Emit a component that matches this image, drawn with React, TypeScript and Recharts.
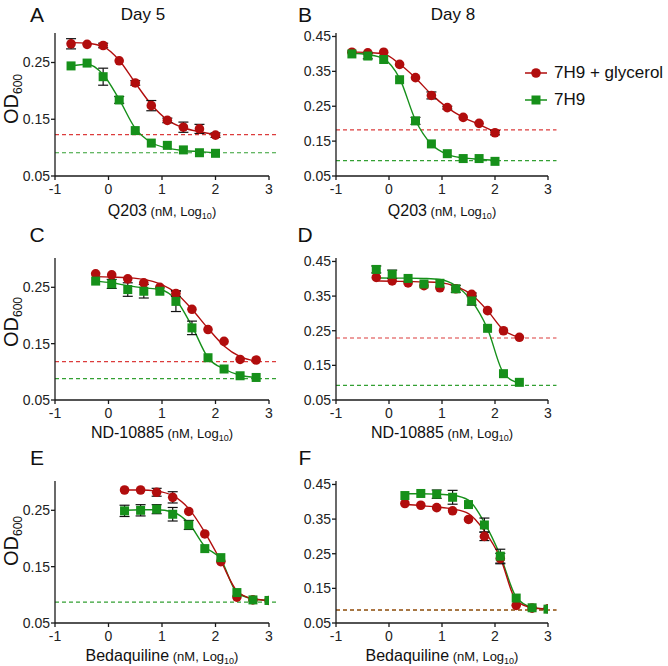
import React from "react";
import { ComposedChart, Line, Scatter, ErrorBar, XAxis, YAxis, ReferenceLine } from "recharts";

const RED = "#b10d0d";
const GREEN = "#16901a";
const RED_DASH = "#dc3c3c";
const GREEN_DASH = "#33a033";
const FONT = "'Liberation Sans', Arial, sans-serif";

const xTicks = [-1, 0, 1, 2, 3];
const yTicksDay5 = [0.05, 0.15, 0.25];
const yTicksDay8 = [0.05, 0.15, 0.25, 0.35, 0.45];

// doses, log10 nM
const q203Dose = [-0.7, -0.4, -0.1, 0.2, 0.5, 0.8, 1.1, 1.4, 1.7, 2.0];
const ndDose = [-0.24, 0.06, 0.36, 0.66, 0.96, 1.26, 1.56, 1.86, 2.16, 2.46, 2.76];
const ndDoseDay8 = [-0.24, 0.06, 0.36, 0.66, 0.96, 1.26, 1.56, 1.86, 2.16, 2.46];
const bdqDose = [0.3, 0.6, 0.9, 1.2, 1.5, 1.8, 2.1, 2.4, 2.7, 3.0];

// A: Q203, day 5
const aGly = [0.283, 0.282, 0.280, 0.253, 0.214, 0.174, 0.148, 0.136, 0.133, 0.122];
const aGlyErr = [0.009, 0, 0.004, 0, 0.004, 0.009, 0.004, 0.009, 0.008, 0.004];
const aGlyFit = [0.285, 0.284, 0.278, 0.254, 0.214, 0.176, 0.149, 0.135, 0.128, 0.123];
const aH9 = [0.244, 0.249, 0.225, 0.184, 0.130, 0.108, 0.104, 0.096, 0.091, 0.090];
const aH9Err = [0, 0, 0.015, 0.006, 0, 0, 0, 0, 0, 0];
const aH9Fit = [0.244, 0.247, 0.229, 0.185, 0.134, 0.109, 0.099, 0.095, 0.093, 0.091];

// B: Q203, day 8
const bGly = [0.405, 0.403, 0.405, 0.370, 0.332, 0.281, 0.246, 0.218, 0.201, 0.174];
const bGlyErr = [0, 0, 0, 0, 0, 0.010, 0.004, 0, 0, 0.006];
const bGlyFit = [0.406, 0.404, 0.400, 0.371, 0.331, 0.284, 0.246, 0.218, 0.198, 0.176];
const bH9 = [0.400, 0.394, 0.384, 0.326, 0.208, 0.142, 0.114, 0.100, 0.100, 0.092];
const bH9Err = [0, 0.008, 0, 0, 0.010, 0, 0, 0, 0, 0];
const bH9Fit = [0.402, 0.398, 0.386, 0.330, 0.210, 0.141, 0.112, 0.102, 0.098, 0.095];

// C: ND-10885, day 5
const cGly = [0.274, 0.272, 0.265, 0.258, 0.250, 0.239, 0.211, 0.175, 0.154, 0.122, 0.121];
const cGlyErr = [0, 0, 0, 0, 0, 0.005, 0, 0, 0, 0, 0];
const cGlyFit = [0.269, 0.268, 0.267, 0.264, 0.256, 0.240, 0.211, 0.177, 0.146, 0.127, 0.119];
const cH9 = [0.261, 0.256, 0.246, 0.243, 0.243, 0.225, 0.178, 0.125, 0.105, 0.093, 0.090];
const cH9Err = [0, 0.008, 0.012, 0.012, 0, 0.018, 0.012, 0, 0, 0, 0];
const cH9Fit = [0.261, 0.258, 0.253, 0.249, 0.246, 0.228, 0.181, 0.125, 0.105, 0.094, 0.090];

// D: ND-10885, day 8
const dGly = [0.404, 0.394, 0.388, 0.380, 0.374, 0.371, 0.355, 0.308, 0.250, 0.231];
const dGlyErr = [0, 0, 0, 0, 0, 0, 0.004, 0, 0, 0];
const dGlyFit = [0.394, 0.393, 0.392, 0.391, 0.389, 0.378, 0.354, 0.308, 0.252, 0.231];
const dH9 = [0.427, 0.413, 0.401, 0.385, 0.387, 0.371, 0.336, 0.257, 0.126, 0.101];
const dH9Err = [0.010, 0.012, 0, 0, 0, 0.010, 0.012, 0, 0, 0];
const dH9Fit = [0.403, 0.402, 0.402, 0.401, 0.398, 0.380, 0.336, 0.255, 0.128, 0.098];

// E: bedaquiline, day 5
const eGly = [0.286, 0.286, 0.282, 0.273, 0.248, 0.208, 0.159, 0.096, 0.091, 0.090];
const eGlyErr = [0, 0, 0.007, 0.010, 0, 0, 0, 0, 0, 0];
const eGlyFit = [0.286, 0.286, 0.284, 0.276, 0.253, 0.211, 0.160, 0.107, 0.093, 0.090];
const eH9 = [0.249, 0.250, 0.252, 0.243, 0.224, 0.182, 0.166, 0.104, 0.091, 0.090];
const eH9Err = [0.010, 0.010, 0.008, 0.012, 0.008, 0, 0, 0, 0, 0];
const eH9Fit = [0.250, 0.251, 0.251, 0.247, 0.227, 0.186, 0.163, 0.104, 0.093, 0.090];

// F: bedaquiline, day 8
const fGly = [0.395, 0.390, 0.383, 0.374, 0.349, 0.300, 0.236, 0.101, 0.093, 0.091];
const fGlyErr = [0, 0, 0, 0, 0, 0.012, 0.015, 0, 0, 0];
const fGlyFit = [0.392, 0.389, 0.385, 0.379, 0.366, 0.316, 0.238, 0.115, 0.094, 0.090];
const fH9 = [0.418, 0.424, 0.422, 0.413, 0.392, 0.333, 0.243, 0.122, 0.094, 0.090];
const fH9Err = [0, 0, 0.012, 0.020, 0, 0.020, 0.020, 0, 0, 0];
const fH9Fit = [0.423, 0.423, 0.422, 0.419, 0.405, 0.340, 0.245, 0.125, 0.095, 0.090];

// bottom plateau cutoffs (dashed)
const cutGly = { A: 0.123, B: 0.182, C: 0.118, D: 0.229, E: null, F: 0.088 };
const cutH9 = { A: 0.091, B: 0.094, C: 0.088, D: 0.092, E: 0.087, F: 0.087 };

function rows(x, gly, glyErr, glyFit, h9, h9Err, h9Fit) {
  return x.map((v, i) => ({
    x: v,
    gly: gly[i],
    glyErr: glyErr[i],
    glyFit: glyFit[i],
    h9: h9[i],
    h9Err: h9Err[i],
    h9Fit: h9Fit[i],
  }));
}

const panels = [
  { id: "A", col: 0, row: 0, drug: "Q203", data: rows(q203Dose, aGly, aGlyErr, aGlyFit, aH9, aH9Err, aH9Fit) },
  { id: "B", col: 1, row: 0, drug: "Q203", data: rows(q203Dose, bGly, bGlyErr, bGlyFit, bH9, bH9Err, bH9Fit) },
  { id: "C", col: 0, row: 1, drug: "ND-10885", data: rows(ndDose, cGly, cGlyErr, cGlyFit, cH9, cH9Err, cH9Fit) },
  { id: "D", col: 1, row: 1, drug: "ND-10885", data: rows(ndDoseDay8, dGly, dGlyErr, dGlyFit, dH9, dH9Err, dH9Fit) },
  { id: "E", col: 0, row: 2, drug: "Bedaquiline", data: rows(bdqDose, eGly, eGlyErr, eGlyFit, eH9, eH9Err, eH9Fit) },
  { id: "F", col: 1, row: 2, drug: "Bedaquiline", data: rows(bdqDose, fGly, fGlyErr, fGlyFit, fH9, fH9Err, fH9Fit) },
];

const colLayout = [
  { left: 0, width: 290, yAxisW: 55, right: 21, plotCx: 162 },
  { left: 290, width: 378, yAxisW: 46, right: 120, plotCx: 442 },
];
const rowLayout = [
  { top: 0, mTop: 33, plotH: 143, labelY: 211, letterY: 14, odY: 99 },
  { top: 222, mTop: 36, plotH: 142, labelY: 433, letterY: 234, odY: 322 },
  { top: 444, mTop: 37, plotH: 142, labelY: 656, letterY: 457, odY: 541 },
];

const Dot = (p) => (p.cx == null ? null : <circle cx={p.cx} cy={p.cy} r={4.8} fill={RED} />);
const Sq = (p) => (p.cx == null ? null : <rect x={p.cx - 4.5} y={p.cy - 4.5} width={9} height={9} fill={GREEN} />);

const tickStyle = { fontSize: 14, fill: "#222", fontFamily: FONT };

function Panel({ p }) {
  const c = colLayout[p.col];
  const r = rowLayout[p.row];
  const day8 = p.col === 1;
  const yMax = day8 ? 0.46 : 0.302;
  const gCut = cutGly[p.id];
  const hCut = cutH9[p.id];
  const sameCut = p.id === "F";
  return (
    <div style={{ position: "absolute", left: c.left, top: r.top }}>
      <ComposedChart
        width={c.width}
        height={222}
        data={p.data}
        margin={{ top: r.mTop, right: c.right, left: 0, bottom: 0 }}
      >
        <XAxis
          type="number"
          dataKey="x"
          domain={[-1, 3]}
          ticks={xTicks}
          allowDataOverflow
          height={222 - r.mTop - r.plotH}
          tickSize={4}
          tickMargin={4}
          stroke="#1a1a1a"
          strokeWidth={1.3}
          tick={tickStyle}
        />
        <YAxis
          type="number"
          domain={[0.05, yMax]}
          ticks={day8 ? yTicksDay8 : yTicksDay5}
          allowDataOverflow
          width={c.yAxisW}
          tickSize={4}
          tickMargin={1}
          stroke="#1a1a1a"
          strokeWidth={1.3}
          tick={tickStyle}
          tickFormatter={(v) => v.toFixed(2)}
        />
        {gCut != null && (
          <ReferenceLine
            segment={[{ x: -1, y: gCut }, { x: 3.16, y: gCut }]}
            ifOverflow="visible"
            stroke={sameCut ? "#b8642c" : RED_DASH}
            strokeWidth={1.2}
            strokeDasharray="4 3"
          />
        )}
        {hCut != null && (
          <ReferenceLine
            segment={[{ x: -1, y: hCut }, { x: 3.16, y: hCut }]}
            ifOverflow="visible"
            stroke={sameCut ? "#94642a" : GREEN_DASH}
            strokeWidth={1.2}
            strokeDasharray="4 3"
          />
        )}
        <Line type="monotone" dataKey="h9Fit" stroke={GREEN} strokeWidth={1.4} dot={false} isAnimationActive={false} />
        <Line type="monotone" dataKey="glyFit" stroke={RED} strokeWidth={1.4} dot={false} isAnimationActive={false} />
        <Scatter data={p.data} dataKey="gly" shape={Dot} isAnimationActive={false}>
          <ErrorBar dataKey="glyErr" direction="y" width={5} stroke="#111" strokeWidth={1.2} />
        </Scatter>
        <Scatter data={p.data} dataKey="h9" shape={Sq} isAnimationActive={false}>
          <ErrorBar dataKey="h9Err" direction="y" width={5} stroke="#111" strokeWidth={1.2} />
        </Scatter>
      </ComposedChart>
    </div>
  );
}

const abs = (x, y, extra = {}) => ({
  position: "absolute",
  left: x,
  top: y,
  transform: "translate(-50%, -50%)",
  whiteSpace: "nowrap",
  fontFamily: FONT,
  color: "#111",
  lineHeight: 1,
  ...extra,
});

const subStyle = (size) => ({ fontSize: size, verticalAlign: "baseline", position: "relative", top: "0.3em", lineHeight: 0 });

function Legend() {
  const items = [
    { name: "7H9 + glycerol", color: RED, shape: "circle" },
    { name: "7H9", color: GREEN, shape: "square" },
  ];
  return (
    <div style={{ position: "absolute", left: 524, top: 60, fontFamily: FONT }}>
      {items.map((it) => (
        <div key={it.name} style={{ display: "flex", alignItems: "center", height: 26.5 }}>
          <svg width={24} height={12}>
            <line x1={1} x2={23} y1={6} y2={6} stroke={it.color} strokeWidth={1.5} />
            {it.shape === "circle" ? (
              <circle cx={12} cy={6} r={4.8} fill={it.color} />
            ) : (
              <rect x={7.5} y={1.5} width={9} height={9} fill={it.color} />
            )}
          </svg>
          <span style={{ marginLeft: 6, fontSize: 17, color: "#111" }}>{it.name}</span>
        </div>
      ))}
    </div>
  );
}

export default function App() {
  return (
    <div style={{ position: "absolute", left: 0, top: 0, width: 668, height: 666, background: "#fff" }}>
      {panels.map((p) => (
        <Panel key={p.id} p={p} />
      ))}
      {panels.map((p) => {
        const c = colLayout[p.col];
        const r = rowLayout[p.row];
        return (
          <React.Fragment key={"t" + p.id}>
            <div style={abs(p.col === 0 ? 37 : 305, r.letterY, { fontSize: 21 })}>{p.id}</div>
            <div style={abs(c.plotCx, r.labelY, { fontSize: 16 })}>
              {p.drug}
              <span style={{ fontSize: 13 }}>
                {" "}(nM, Log<span style={subStyle(9)}>10</span>)
              </span>
            </div>
            {p.col === 0 && (
              <div style={abs(11, r.odY, { fontSize: 20, transform: "translate(-50%, -50%) rotate(-90deg)" })}>
                OD<span style={subStyle(12)}>600</span>
              </div>
            )}
          </React.Fragment>
        );
      })}
      <div style={abs(143, 14, { fontSize: 17 })}>Day 5</div>
      <div style={abs(453, 14, { fontSize: 17 })}>Day 8</div>
      <Legend />
    </div>
  );
}
